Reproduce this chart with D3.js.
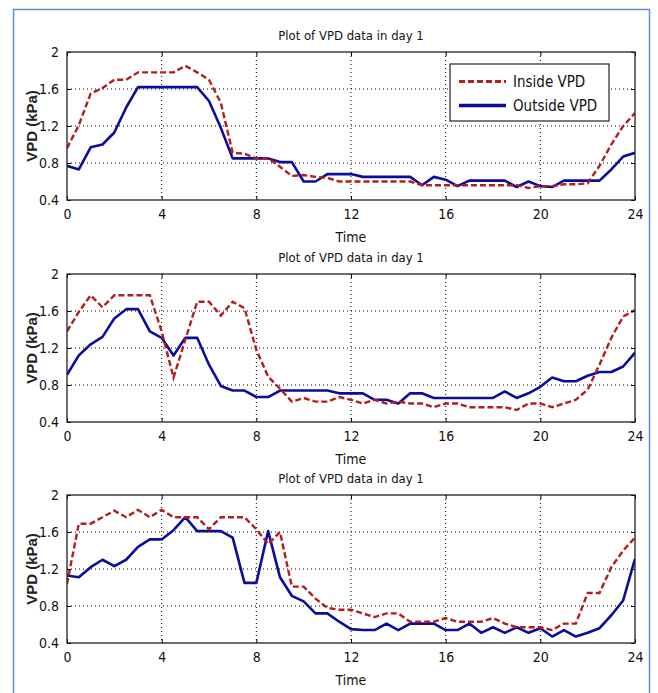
<!DOCTYPE html>
<html>
<head>
<meta charset="utf-8">
<script src="https://cdn.jsdelivr.net/npm/d3@7"></script>
<style>
  html, body { margin: 0; padding: 0; background: #ffffff; }
  svg { display: block; }
  .narrow { font-family: "Liberation Sans Narrow", "Arial Narrow", "DejaVu Sans Condensed", sans-serif; }
</style>
</head>
<body>
<svg id="chart" width="658" height="693"></svg>
<script>
// ---------- data ----------
const hours = [0,0.5,1,1.5,2,2.5,3,3.5,4,4.5,5,5.5,6,6.5,7,7.5,8,8.5,9,9.5,10,10.5,11,11.5,12,
               12.5,13,13.5,14,14.5,15,15.5,16,16.5,17,17.5,18,18.5,19,19.5,20,20.5,21,21.5,22,22.5,23,23.5,24];

const inside1  = [0.96,1.21,1.55,1.61,1.70,1.70,1.78,1.78,1.78,1.78,1.85,1.78,1.70,1.45,0.91,0.90,0.85,0.85,0.76,0.66,0.67,0.65,0.64,0.60,0.60,
                  0.60,0.60,0.60,0.60,0.60,0.56,0.56,0.56,0.56,0.56,0.56,0.56,0.56,0.56,0.53,0.55,0.55,0.57,0.57,0.58,0.77,1.00,1.20,1.34];
const outside1 = [0.77,0.73,0.97,1.00,1.13,1.40,1.62,1.62,1.62,1.62,1.62,1.62,1.47,1.18,0.85,0.85,0.85,0.85,0.81,0.81,0.60,0.60,0.68,0.68,0.68,
                  0.65,0.65,0.65,0.65,0.65,0.56,0.65,0.62,0.55,0.61,0.61,0.61,0.61,0.54,0.60,0.55,0.54,0.61,0.61,0.61,0.61,0.73,0.87,0.91];

const inside2  = [1.38,1.59,1.77,1.64,1.77,1.77,1.77,1.77,1.38,0.88,1.29,1.70,1.70,1.55,1.70,1.63,1.18,0.89,0.76,0.62,0.66,0.62,0.62,0.67,0.64,
                  0.60,0.64,0.60,0.62,0.60,0.60,0.56,0.60,0.60,0.56,0.56,0.56,0.56,0.53,0.60,0.60,0.56,0.60,0.64,0.75,1.02,1.31,1.54,1.61];
const outside2 = [0.91,1.12,1.24,1.32,1.52,1.62,1.62,1.38,1.31,1.12,1.31,1.31,1.02,0.79,0.74,0.74,0.67,0.67,0.74,0.74,0.74,0.74,0.74,0.71,0.71,
                  0.71,0.64,0.64,0.60,0.71,0.71,0.66,0.66,0.66,0.66,0.66,0.66,0.73,0.66,0.71,0.78,0.88,0.84,0.84,0.90,0.94,0.94,1.00,1.15];

const inside3  = [1.04,1.69,1.69,1.76,1.83,1.76,1.84,1.76,1.84,1.76,1.76,1.76,1.63,1.76,1.76,1.76,1.63,1.47,1.60,1.01,1.01,0.88,0.78,0.76,0.76,
                  0.72,0.68,0.72,0.72,0.63,0.63,0.63,0.67,0.63,0.63,0.63,0.67,0.61,0.57,0.57,0.57,0.54,0.61,0.61,0.94,0.94,1.22,1.40,1.54];
const outside3 = [1.13,1.11,1.22,1.30,1.23,1.30,1.44,1.52,1.52,1.62,1.76,1.61,1.61,1.61,1.54,1.05,1.05,1.61,1.11,0.91,0.85,0.72,0.72,0.63,0.55,
                  0.54,0.54,0.61,0.54,0.61,0.61,0.61,0.54,0.54,0.61,0.51,0.57,0.51,0.57,0.51,0.56,0.47,0.54,0.47,0.51,0.56,0.70,0.86,1.31];

const xTicks = [0,4,8,12,16,20,24];
const yTicks = [0.4,0.8,1.2,1.6,2];
const yTickLabels = ["0.4","0.8","1.2","1.6","2"];
const titleText = "Plot of VPD data in day 1";
const xLabel = "Time";
const yLabel = "VPD (kPa)";
const legendLabels = ["Inside VPD","Outside VPD"];

const panels = [
  {top: 52,  inside: inside1, outside: outside1, legend: true},
  {top: 274, inside: inside2, outside: outside2, legend: false},
  {top: 495, inside: inside3, outside: outside3, legend: false}
];

// ---------- drawing ----------
const svg = d3.select("#chart");
const W = 658, H = 693;
const left = 67, right = 635, ph = 148;
const redCol = "#b51c1c", blueCol = "#0c0c9c";

// outer blue frame
svg.append("rect").attr("x", 13.5).attr("y", 9.5).attr("width", 636).attr("height", 700)
  .attr("fill", "none").attr("stroke", "#5b8fd0").attr("stroke-width", 1.5);

const x = d3.scaleLinear().domain([0, 24]).range([left, right]);

panels.forEach((p, i) => {
  const y = d3.scaleLinear().domain([0.4, 2]).range([p.top + ph, p.top]);
  const g = svg.append("g");

  // grid (dotted)
  g.append("g").selectAll("line").data(xTicks.slice(1, -1)).join("line")
    .attr("x1", d => x(d)).attr("x2", d => x(d)).attr("y1", p.top).attr("y2", p.top + ph)
    .attr("stroke", "#000").attr("stroke-width", 1).attr("stroke-dasharray", "1,3");
  g.append("g").selectAll("line").data(yTicks.slice(1, -1)).join("line")
    .attr("x1", left).attr("x2", right).attr("y1", d => y(d)).attr("y2", d => y(d))
    .attr("stroke", "#000").attr("stroke-width", 1).attr("stroke-dasharray", "1,3");

  // clip
  const cid = "clip" + i;
  svg.append("clipPath").attr("id", cid).append("rect")
    .attr("x", left).attr("y", p.top - 2).attr("width", right - left).attr("height", ph + 4);

  const line = d3.line().x((d, k) => x(hours[k])).y(d => y(d));

  g.append("path").datum(p.outside).attr("d", line).attr("clip-path", `url(#${cid})`)
    .attr("fill", "none").attr("stroke", blueCol).attr("stroke-width", 2.6).attr("stroke-linejoin", "round");
  g.append("path").datum(p.inside).attr("d", line).attr("clip-path", `url(#${cid})`)
    .attr("fill", "none").attr("stroke", redCol).attr("stroke-width", 2.4).attr("stroke-dasharray", "6,3");

  // axes (MATLAB style: ticks inside, box)
  const xAxis = d3.axisBottom(x).tickValues(xTicks).tickFormat(d3.format("d")).tickSizeInner(-4).tickSizeOuter(0).tickPadding(9);
  const ax = g.append("g").attr("transform", `translate(0,${p.top + ph})`).call(xAxis);
  const xTop = d3.axisTop(x).tickValues(xTicks).tickFormat("").tickSizeInner(-4).tickSizeOuter(0);
  g.append("g").attr("transform", `translate(0,${p.top})`).call(xTop);
  const yAxis = d3.axisLeft(y).tickValues(yTicks).tickFormat((d, k) => yTickLabels[k]).tickSizeInner(-4).tickSizeOuter(0).tickPadding(8);
  const ay = g.append("g").attr("transform", `translate(${left},0)`).call(yAxis);
  const yRight = d3.axisRight(y).tickValues(yTicks).tickFormat("").tickSizeInner(-4).tickSizeOuter(0);
  g.append("g").attr("transform", `translate(${right},0)`).call(yRight);

  g.selectAll(".domain").remove();
  g.selectAll(".tick line").attr("stroke", "#000").attr("stroke-width", 1);
  [ax, ay].forEach(a => a.selectAll("text")
    .attr("class", "narrow").style("font-size", "14px").attr("fill", "#111"));

  g.append("rect").attr("x", left).attr("y", p.top).attr("width", right - left).attr("height", ph)
    .attr("fill", "none").attr("stroke", "#222").attr("stroke-width", 1.3);

  // title
  g.append("text").attr("class", "narrow").attr("x", (left + right) / 2).attr("y", p.top - 12)
    .attr("text-anchor", "middle").style("font-size", "13px").attr("fill", "#111").text(titleText);
  // x label
  g.append("text").attr("class", "narrow").attr("x", (left + right) / 2).attr("y", p.top + ph + 42)
    .attr("text-anchor", "middle").style("font-size", "14px").attr("fill", "#111").text(xLabel);
  // y label
  g.append("text").attr("transform", `translate(37,${p.top + ph / 2}) rotate(-90)`)
    .attr("text-anchor", "middle").style("font-family", "'Liberation Sans', Arial, sans-serif")
    .style("font-size", "15px").style("font-weight", "bold").attr("fill", "#222").text(yLabel);

  if (p.legend) {
    const lg = g.append("g");
    lg.append("rect").attr("x", 450).attr("y", 64).attr("width", 159).attr("height", 57)
      .attr("fill", "#fff").attr("stroke", "#222").attr("stroke-width", 1.2);
    const items = [{c: redCol, dash: "6,3", w: 3.2}, {c: blueCol, dash: null, w: 3.4}];
    items.forEach((it, k) => {
      const yy = 81.5 + k * 24;
      lg.append("line").attr("x1", 459).attr("x2", 506).attr("y1", yy).attr("y2", yy)
        .attr("stroke", it.c).attr("stroke-width", it.w).attr("stroke-dasharray", it.dash);
      lg.append("text").attr("class", "narrow").attr("x", 513).attr("y", yy + 5)
        .style("font-size", "15px").attr("fill", "#111").text(legendLabels[k]);
    });
  }
});
</script>
</body>
</html>
